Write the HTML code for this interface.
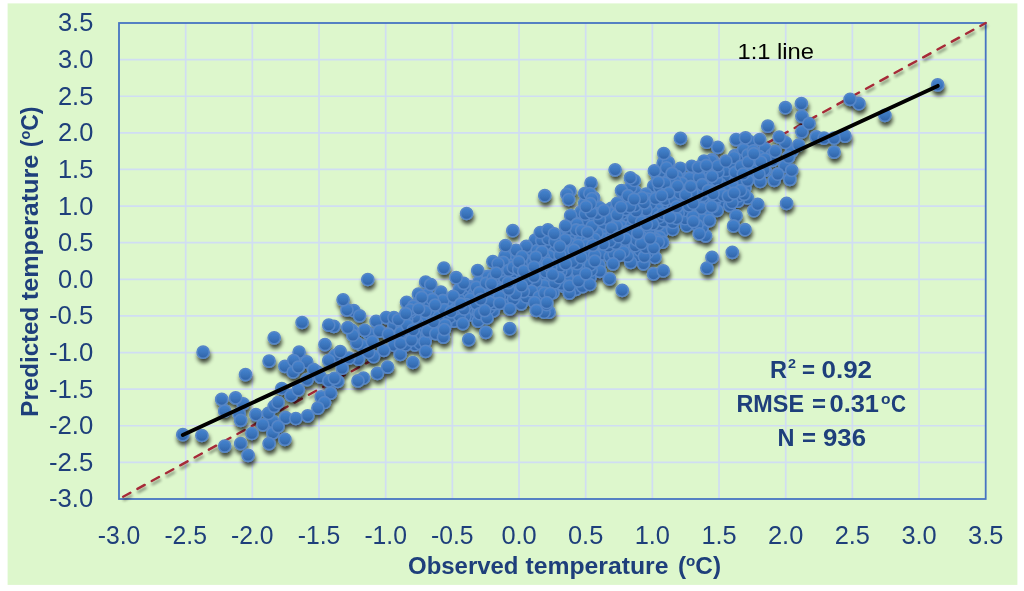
<!DOCTYPE html>
<html lang="en"><head><meta charset="utf-8"><title>Observed vs predicted temperature</title>
<style>html,body{margin:0;padding:0;background:#fff;}body{width:1024px;height:591px;overflow:hidden}svg{display:block}</style>
</head><body>
<svg width="1024" height="591" viewBox="0 0 1024 591">
<defs>
<linearGradient id="g" x1="0" y1="0" x2="0" y2="1"><stop offset="0" stop-color="#4582cd"/><stop offset="0.15" stop-color="#4280cb"/><stop offset="0.55" stop-color="#3a74bb"/><stop offset="0.9" stop-color="#3165aa"/><stop offset="1" stop-color="#3165aa"/></linearGradient>
<filter id="sh" x="-5%" y="-5%" width="110%" height="115%"><feGaussianBlur in="SourceAlpha" stdDeviation="2.2"/><feOffset dx="0.9" dy="3.7"/><feComponentTransfer><feFuncA type="linear" slope="0.72"/></feComponentTransfer><feMerge><feMergeNode/><feMergeNode in="SourceGraphic"/></feMerge></filter>

<filter id="sh2" x="-5%" y="-5%" width="110%" height="115%"><feGaussianBlur in="SourceAlpha" stdDeviation="1.5"/><feOffset dx="1" dy="2.5"/><feComponentTransfer><feFuncA type="linear" slope="0.45"/></feComponentTransfer><feMerge><feMergeNode/><feMergeNode in="SourceGraphic"/></feMerge></filter>
</defs>
<rect x="0" y="0" width="1024" height="591" fill="#fff"/>
<rect x="7.6" y="3.4" width="1009.8" height="581.5" fill="#ddf7cc"/>
<path d="M185.67 23.0V499.0M119.0 59.62H985.7M252.34 23.0V499.0M119.0 96.23H985.7M319.01 23.0V499.0M119.0 132.85H985.7M385.68 23.0V499.0M119.0 169.46H985.7M452.35 23.0V499.0M119.0 206.08H985.7M519.02 23.0V499.0M119.0 242.69H985.7M585.68 23.0V499.0M119.0 279.31H985.7M652.35 23.0V499.0M119.0 315.92H985.7M719.02 23.0V499.0M119.0 352.54H985.7M785.69 23.0V499.0M119.0 389.15H985.7M852.36 23.0V499.0M119.0 425.77H985.7M919.03 23.0V499.0M119.0 462.38H985.7" stroke="#d0ddf3" stroke-width="1.7" fill="none"/>
<rect x="119.0" y="23.0" width="866.7" height="476.0" fill="none" stroke="#4674c2" stroke-width="1.8"/>
<path filter="url(#sh2)" d="M119.0 499.0L985.7 23.0" stroke="#a62a37" stroke-width="2.4" stroke-linecap="round" stroke-dasharray="8.3 8" stroke-dashoffset="11.6" fill="none"/>
<g filter="url(#sh)" fill="url(#g)" stroke="#5686c7" stroke-width="1.6">
<circle cx="631.5" cy="252.9" r="6.05"/>
<circle cx="666.1" cy="209.4" r="6.05"/>
<circle cx="725.8" cy="184.7" r="6.05"/>
<circle cx="629.9" cy="246.5" r="6.05"/>
<circle cx="556.1" cy="251.5" r="6.05"/>
<circle cx="657.6" cy="176.9" r="6.05"/>
<circle cx="721.9" cy="201.4" r="6.05"/>
<circle cx="690.8" cy="198.7" r="6.05"/>
<circle cx="689.9" cy="212.0" r="6.05"/>
<circle cx="515.9" cy="278.6" r="6.05"/>
<circle cx="377.4" cy="373.4" r="6.05"/>
<circle cx="697.2" cy="183.3" r="6.05"/>
<circle cx="321.2" cy="396.9" r="6.05"/>
<circle cx="611.0" cy="222.5" r="6.05"/>
<circle cx="701.7" cy="172.3" r="6.05"/>
<circle cx="462.0" cy="297.2" r="6.05"/>
<circle cx="430.0" cy="308.0" r="6.05"/>
<circle cx="640.3" cy="207.4" r="6.05"/>
<circle cx="224.7" cy="446.1" r="6.05"/>
<circle cx="738.5" cy="161.5" r="6.05"/>
<circle cx="281.8" cy="388.5" r="6.05"/>
<circle cx="670.1" cy="202.1" r="6.05"/>
<circle cx="664.3" cy="175.6" r="6.05"/>
<circle cx="447.3" cy="303.0" r="6.05"/>
<circle cx="739.9" cy="189.1" r="6.05"/>
<circle cx="502.4" cy="302.6" r="6.05"/>
<circle cx="492.7" cy="297.6" r="6.05"/>
<circle cx="744.9" cy="187.8" r="6.05"/>
<circle cx="376.1" cy="321.4" r="6.05"/>
<circle cx="511.2" cy="258.9" r="6.05"/>
<circle cx="621.4" cy="221.4" r="6.05"/>
<circle cx="759.7" cy="167.1" r="6.05"/>
<circle cx="747.7" cy="162.0" r="6.05"/>
<circle cx="643.5" cy="263.8" r="6.05"/>
<circle cx="540.0" cy="246.2" r="6.05"/>
<circle cx="393.9" cy="345.2" r="6.05"/>
<circle cx="203.1" cy="352.2" r="6.05"/>
<circle cx="539.1" cy="286.9" r="6.05"/>
<circle cx="552.9" cy="292.6" r="6.05"/>
<circle cx="468.0" cy="291.8" r="6.05"/>
<circle cx="662.0" cy="204.1" r="6.05"/>
<circle cx="470.8" cy="286.9" r="6.05"/>
<circle cx="491.7" cy="289.5" r="6.05"/>
<circle cx="485.1" cy="288.4" r="6.05"/>
<circle cx="565.1" cy="258.1" r="6.05"/>
<circle cx="240.7" cy="443.6" r="6.05"/>
<circle cx="607.4" cy="251.4" r="6.05"/>
<circle cx="644.1" cy="229.6" r="6.05"/>
<circle cx="470.5" cy="314.8" r="6.05"/>
<circle cx="412.9" cy="362.5" r="6.05"/>
<circle cx="694.4" cy="176.4" r="6.05"/>
<circle cx="705.6" cy="235.8" r="6.05"/>
<circle cx="760.2" cy="181.5" r="6.05"/>
<circle cx="547.3" cy="250.6" r="6.05"/>
<circle cx="508.7" cy="264.4" r="6.05"/>
<circle cx="637.9" cy="255.7" r="6.05"/>
<circle cx="634.9" cy="191.3" r="6.05"/>
<circle cx="640.2" cy="250.5" r="6.05"/>
<circle cx="529.6" cy="270.1" r="6.05"/>
<circle cx="545.2" cy="280.2" r="6.05"/>
<circle cx="425.7" cy="303.7" r="6.05"/>
<circle cx="539.5" cy="277.2" r="6.05"/>
<circle cx="509.7" cy="276.8" r="6.05"/>
<circle cx="705.8" cy="211.2" r="6.05"/>
<circle cx="368.6" cy="333.4" r="6.05"/>
<circle cx="440.9" cy="321.5" r="6.05"/>
<circle cx="686.6" cy="225.7" r="6.05"/>
<circle cx="406.5" cy="339.6" r="6.05"/>
<circle cx="695.6" cy="189.1" r="6.05"/>
<circle cx="514.6" cy="289.1" r="6.05"/>
<circle cx="571.8" cy="224.3" r="6.05"/>
<circle cx="466.6" cy="213.5" r="6.05"/>
<circle cx="653.6" cy="232.9" r="6.05"/>
<circle cx="765.1" cy="170.4" r="6.05"/>
<circle cx="707.6" cy="200.7" r="6.05"/>
<circle cx="272.9" cy="432.9" r="6.05"/>
<circle cx="574.6" cy="256.8" r="6.05"/>
<circle cx="683.5" cy="178.4" r="6.05"/>
<circle cx="481.9" cy="276.9" r="6.05"/>
<circle cx="581.1" cy="276.4" r="6.05"/>
<circle cx="734.2" cy="181.5" r="6.05"/>
<circle cx="734.4" cy="172.0" r="6.05"/>
<circle cx="245.5" cy="374.6" r="6.05"/>
<circle cx="774.2" cy="180.3" r="6.05"/>
<circle cx="507.6" cy="302.1" r="6.05"/>
<circle cx="548.8" cy="288.0" r="6.05"/>
<circle cx="653.6" cy="273.9" r="6.05"/>
<circle cx="607.1" cy="233.3" r="6.05"/>
<circle cx="884.9" cy="115.3" r="6.05"/>
<circle cx="505.8" cy="293.6" r="6.05"/>
<circle cx="364.7" cy="330.3" r="6.05"/>
<circle cx="801.9" cy="116.3" r="6.05"/>
<circle cx="587.0" cy="199.8" r="6.05"/>
<circle cx="589.9" cy="219.8" r="6.05"/>
<circle cx="748.2" cy="167.7" r="6.05"/>
<circle cx="519.5" cy="297.4" r="6.05"/>
<circle cx="408.0" cy="333.5" r="6.05"/>
<circle cx="712.0" cy="159.9" r="6.05"/>
<circle cx="564.0" cy="286.3" r="6.05"/>
<circle cx="497.2" cy="281.4" r="6.05"/>
<circle cx="419.3" cy="332.2" r="6.05"/>
<circle cx="514.5" cy="273.3" r="6.05"/>
<circle cx="291.2" cy="395.4" r="6.05"/>
<circle cx="386.3" cy="317.6" r="6.05"/>
<circle cx="423.0" cy="328.7" r="6.05"/>
<circle cx="597.8" cy="227.9" r="6.05"/>
<circle cx="421.1" cy="337.8" r="6.05"/>
<circle cx="272.9" cy="421.5" r="6.05"/>
<circle cx="586.2" cy="226.9" r="6.05"/>
<circle cx="575.9" cy="236.5" r="6.05"/>
<circle cx="631.4" cy="240.5" r="6.05"/>
<circle cx="665.7" cy="227.9" r="6.05"/>
<circle cx="626.7" cy="226.1" r="6.05"/>
<circle cx="622.2" cy="290.4" r="6.05"/>
<circle cx="474.1" cy="308.9" r="6.05"/>
<circle cx="615.6" cy="231.3" r="6.05"/>
<circle cx="544.0" cy="285.7" r="6.05"/>
<circle cx="269.1" cy="361.1" r="6.05"/>
<circle cx="584.7" cy="203.3" r="6.05"/>
<circle cx="711.5" cy="160.9" r="6.05"/>
<circle cx="317.6" cy="372.2" r="6.05"/>
<circle cx="730.3" cy="175.5" r="6.05"/>
<circle cx="558.5" cy="236.6" r="6.05"/>
<circle cx="555.0" cy="256.7" r="6.05"/>
<circle cx="521.2" cy="303.8" r="6.05"/>
<circle cx="431.4" cy="316.4" r="6.05"/>
<circle cx="572.7" cy="281.5" r="6.05"/>
<circle cx="569.9" cy="191.1" r="6.05"/>
<circle cx="243.2" cy="403.8" r="6.05"/>
<circle cx="462.8" cy="314.7" r="6.05"/>
<circle cx="269.1" cy="443.6" r="6.05"/>
<circle cx="710.4" cy="169.8" r="6.05"/>
<circle cx="481.9" cy="305.1" r="6.05"/>
<circle cx="590.0" cy="277.0" r="6.05"/>
<circle cx="655.6" cy="190.8" r="6.05"/>
<circle cx="638.6" cy="202.0" r="6.05"/>
<circle cx="525.6" cy="265.9" r="6.05"/>
<circle cx="474.0" cy="293.9" r="6.05"/>
<circle cx="789.9" cy="179.3" r="6.05"/>
<circle cx="363.5" cy="378.0" r="6.05"/>
<circle cx="661.8" cy="232.2" r="6.05"/>
<circle cx="654.9" cy="257.4" r="6.05"/>
<circle cx="734.8" cy="155.6" r="6.05"/>
<circle cx="743.8" cy="158.0" r="6.05"/>
<circle cx="659.7" cy="172.0" r="6.05"/>
<circle cx="650.8" cy="193.9" r="6.05"/>
<circle cx="648.9" cy="231.0" r="6.05"/>
<circle cx="671.4" cy="184.9" r="6.05"/>
<circle cx="695.5" cy="212.2" r="6.05"/>
<circle cx="285.6" cy="417.7" r="6.05"/>
<circle cx="728.1" cy="164.8" r="6.05"/>
<circle cx="583.3" cy="220.1" r="6.05"/>
<circle cx="711.0" cy="211.7" r="6.05"/>
<circle cx="503.9" cy="286.9" r="6.05"/>
<circle cx="411.5" cy="322.2" r="6.05"/>
<circle cx="791.7" cy="151.4" r="6.05"/>
<circle cx="571.5" cy="270.3" r="6.05"/>
<circle cx="673.7" cy="191.9" r="6.05"/>
<circle cx="708.1" cy="182.5" r="6.05"/>
<circle cx="699.0" cy="201.4" r="6.05"/>
<circle cx="772.7" cy="160.3" r="6.05"/>
<circle cx="423.3" cy="305.4" r="6.05"/>
<circle cx="749.5" cy="141.7" r="6.05"/>
<circle cx="598.3" cy="250.0" r="6.05"/>
<circle cx="498.2" cy="289.5" r="6.05"/>
<circle cx="420.8" cy="315.0" r="6.05"/>
<circle cx="470.2" cy="299.1" r="6.05"/>
<circle cx="539.4" cy="292.0" r="6.05"/>
<circle cx="623.1" cy="201.9" r="6.05"/>
<circle cx="816.3" cy="136.9" r="6.05"/>
<circle cx="538.2" cy="261.8" r="6.05"/>
<circle cx="536.8" cy="297.8" r="6.05"/>
<circle cx="443.9" cy="268.1" r="6.05"/>
<circle cx="540.9" cy="268.2" r="6.05"/>
<circle cx="575.8" cy="289.3" r="6.05"/>
<circle cx="414.8" cy="344.9" r="6.05"/>
<circle cx="641.4" cy="237.3" r="6.05"/>
<circle cx="653.6" cy="186.1" r="6.05"/>
<circle cx="353.8" cy="310.7" r="6.05"/>
<circle cx="419.6" cy="330.4" r="6.05"/>
<circle cx="582.9" cy="249.9" r="6.05"/>
<circle cx="615.7" cy="220.1" r="6.05"/>
<circle cx="593.8" cy="207.7" r="6.05"/>
<circle cx="701.0" cy="219.0" r="6.05"/>
<circle cx="724.1" cy="171.1" r="6.05"/>
<circle cx="566.9" cy="194.4" r="6.05"/>
<circle cx="573.2" cy="275.5" r="6.05"/>
<circle cx="465.0" cy="316.2" r="6.05"/>
<circle cx="656.7" cy="203.5" r="6.05"/>
<circle cx="404.4" cy="335.7" r="6.05"/>
<circle cx="415.1" cy="318.9" r="6.05"/>
<circle cx="268.4" cy="413.4" r="6.05"/>
<circle cx="330.6" cy="393.1" r="6.05"/>
<circle cx="552.2" cy="248.3" r="6.05"/>
<circle cx="784.9" cy="166.1" r="6.05"/>
<circle cx="584.1" cy="266.7" r="6.05"/>
<circle cx="685.1" cy="218.7" r="6.05"/>
<circle cx="663.2" cy="163.1" r="6.05"/>
<circle cx="581.3" cy="239.9" r="6.05"/>
<circle cx="738.7" cy="155.0" r="6.05"/>
<circle cx="580.9" cy="212.2" r="6.05"/>
<circle cx="531.3" cy="298.0" r="6.05"/>
<circle cx="646.6" cy="241.9" r="6.05"/>
<circle cx="504.3" cy="277.4" r="6.05"/>
<circle cx="668.3" cy="162.5" r="6.05"/>
<circle cx="681.3" cy="198.5" r="6.05"/>
<circle cx="724.7" cy="176.3" r="6.05"/>
<circle cx="658.4" cy="224.6" r="6.05"/>
<circle cx="630.7" cy="187.4" r="6.05"/>
<circle cx="714.5" cy="201.1" r="6.05"/>
<circle cx="657.5" cy="209.4" r="6.05"/>
<circle cx="680.3" cy="168.3" r="6.05"/>
<circle cx="672.6" cy="229.5" r="6.05"/>
<circle cx="599.2" cy="241.2" r="6.05"/>
<circle cx="705.0" cy="222.5" r="6.05"/>
<circle cx="616.3" cy="248.6" r="6.05"/>
<circle cx="555.9" cy="262.0" r="6.05"/>
<circle cx="665.5" cy="199.4" r="6.05"/>
<circle cx="777.8" cy="174.2" r="6.05"/>
<circle cx="726.0" cy="170.5" r="6.05"/>
<circle cx="634.2" cy="180.5" r="6.05"/>
<circle cx="785.4" cy="142.5" r="6.05"/>
<circle cx="672.0" cy="212.7" r="6.05"/>
<circle cx="488.2" cy="276.4" r="6.05"/>
<circle cx="739.5" cy="177.9" r="6.05"/>
<circle cx="555.4" cy="269.7" r="6.05"/>
<circle cx="359.6" cy="315.8" r="6.05"/>
<circle cx="478.1" cy="321.1" r="6.05"/>
<circle cx="834.1" cy="152.1" r="6.05"/>
<circle cx="676.7" cy="176.4" r="6.05"/>
<circle cx="444.4" cy="317.4" r="6.05"/>
<circle cx="753.9" cy="166.9" r="6.05"/>
<circle cx="764.0" cy="169.7" r="6.05"/>
<circle cx="765.1" cy="148.8" r="6.05"/>
<circle cx="601.2" cy="254.3" r="6.05"/>
<circle cx="428.7" cy="320.9" r="6.05"/>
<circle cx="625.3" cy="218.1" r="6.05"/>
<circle cx="610.0" cy="256.8" r="6.05"/>
<circle cx="325.0" cy="344.6" r="6.05"/>
<circle cx="578.0" cy="271.9" r="6.05"/>
<circle cx="747.5" cy="198.0" r="6.05"/>
<circle cx="513.8" cy="283.5" r="6.05"/>
<circle cx="379.3" cy="331.1" r="6.05"/>
<circle cx="753.9" cy="210.7" r="6.05"/>
<circle cx="726.1" cy="195.3" r="6.05"/>
<circle cx="540.9" cy="302.5" r="6.05"/>
<circle cx="788.5" cy="157.2" r="6.05"/>
<circle cx="604.1" cy="224.6" r="6.05"/>
<circle cx="750.0" cy="173.9" r="6.05"/>
<circle cx="224.7" cy="410.9" r="6.05"/>
<circle cx="284.9" cy="366.4" r="6.05"/>
<circle cx="439.6" cy="326.6" r="6.05"/>
<circle cx="419.6" cy="315.9" r="6.05"/>
<circle cx="335.1" cy="355.5" r="6.05"/>
<circle cx="597.6" cy="213.0" r="6.05"/>
<circle cx="505.0" cy="256.2" r="6.05"/>
<circle cx="535.2" cy="240.1" r="6.05"/>
<circle cx="499.2" cy="296.8" r="6.05"/>
<circle cx="549.1" cy="312.2" r="6.05"/>
<circle cx="492.9" cy="261.7" r="6.05"/>
<circle cx="393.8" cy="325.0" r="6.05"/>
<circle cx="530.3" cy="253.1" r="6.05"/>
<circle cx="528.2" cy="287.1" r="6.05"/>
<circle cx="420.0" cy="343.5" r="6.05"/>
<circle cx="454.0" cy="321.1" r="6.05"/>
<circle cx="646.0" cy="194.2" r="6.05"/>
<circle cx="631.5" cy="235.5" r="6.05"/>
<circle cx="611.3" cy="208.4" r="6.05"/>
<circle cx="631.5" cy="213.9" r="6.05"/>
<circle cx="526.3" cy="246.4" r="6.05"/>
<circle cx="373.6" cy="356.6" r="6.05"/>
<circle cx="738.7" cy="184.0" r="6.05"/>
<circle cx="592.8" cy="250.4" r="6.05"/>
<circle cx="526.3" cy="297.0" r="6.05"/>
<circle cx="659.7" cy="237.2" r="6.05"/>
<circle cx="564.7" cy="248.1" r="6.05"/>
<circle cx="654.3" cy="219.3" r="6.05"/>
<circle cx="602.0" cy="235.2" r="6.05"/>
<circle cx="567.7" cy="280.3" r="6.05"/>
<circle cx="702.1" cy="227.8" r="6.05"/>
<circle cx="653.2" cy="212.4" r="6.05"/>
<circle cx="738.0" cy="201.2" r="6.05"/>
<circle cx="647.6" cy="199.0" r="6.05"/>
<circle cx="453.3" cy="303.8" r="6.05"/>
<circle cx="630.8" cy="262.5" r="6.05"/>
<circle cx="801.4" cy="103.7" r="6.05"/>
<circle cx="427.2" cy="294.6" r="6.05"/>
<circle cx="582.5" cy="286.6" r="6.05"/>
<circle cx="663.2" cy="270.9" r="6.05"/>
<circle cx="713.6" cy="185.8" r="6.05"/>
<circle cx="704.7" cy="177.1" r="6.05"/>
<circle cx="767.8" cy="126.2" r="6.05"/>
<circle cx="468.8" cy="339.6" r="6.05"/>
<circle cx="274.2" cy="337.8" r="6.05"/>
<circle cx="605.2" cy="239.3" r="6.05"/>
<circle cx="251.9" cy="433.5" r="6.05"/>
<circle cx="743.6" cy="149.6" r="6.05"/>
<circle cx="493.3" cy="310.9" r="6.05"/>
<circle cx="733.7" cy="188.0" r="6.05"/>
<circle cx="516.1" cy="250.3" r="6.05"/>
<circle cx="435.6" cy="312.8" r="6.05"/>
<circle cx="544.1" cy="312.2" r="6.05"/>
<circle cx="621.5" cy="190.6" r="6.05"/>
<circle cx="638.9" cy="217.3" r="6.05"/>
<circle cx="719.9" cy="184.0" r="6.05"/>
<circle cx="663.4" cy="220.8" r="6.05"/>
<circle cx="743.5" cy="181.8" r="6.05"/>
<circle cx="627.6" cy="256.1" r="6.05"/>
<circle cx="729.7" cy="205.6" r="6.05"/>
<circle cx="422.6" cy="322.6" r="6.05"/>
<circle cx="747.5" cy="180.3" r="6.05"/>
<circle cx="440.6" cy="305.4" r="6.05"/>
<circle cx="628.1" cy="201.0" r="6.05"/>
<circle cx="400.3" cy="354.4" r="6.05"/>
<circle cx="733.4" cy="164.2" r="6.05"/>
<circle cx="615.3" cy="210.2" r="6.05"/>
<circle cx="736.1" cy="215.8" r="6.05"/>
<circle cx="717.1" cy="210.5" r="6.05"/>
<circle cx="661.2" cy="185.3" r="6.05"/>
<circle cx="512.8" cy="230.7" r="6.05"/>
<circle cx="645.9" cy="216.3" r="6.05"/>
<circle cx="659.2" cy="217.2" r="6.05"/>
<circle cx="611.5" cy="213.4" r="6.05"/>
<circle cx="635.2" cy="245.7" r="6.05"/>
<circle cx="546.6" cy="304.6" r="6.05"/>
<circle cx="445.8" cy="324.2" r="6.05"/>
<circle cx="569.4" cy="293.1" r="6.05"/>
<circle cx="738.6" cy="195.9" r="6.05"/>
<circle cx="438.9" cy="316.8" r="6.05"/>
<circle cx="606.7" cy="218.3" r="6.05"/>
<circle cx="744.2" cy="194.3" r="6.05"/>
<circle cx="416.6" cy="322.5" r="6.05"/>
<circle cx="320.4" cy="377.1" r="6.05"/>
<circle cx="706.9" cy="268.1" r="6.05"/>
<circle cx="578.3" cy="253.1" r="6.05"/>
<circle cx="459.5" cy="289.1" r="6.05"/>
<circle cx="544.8" cy="195.7" r="6.05"/>
<circle cx="597.0" cy="233.1" r="6.05"/>
<circle cx="771.8" cy="154.9" r="6.05"/>
<circle cx="367.8" cy="279.5" r="6.05"/>
<circle cx="568.7" cy="236.0" r="6.05"/>
<circle cx="710.2" cy="171.1" r="6.05"/>
<circle cx="716.6" cy="180.1" r="6.05"/>
<circle cx="570.7" cy="215.5" r="6.05"/>
<circle cx="513.4" cy="299.0" r="6.05"/>
<circle cx="569.7" cy="243.6" r="6.05"/>
<circle cx="745.0" cy="229.7" r="6.05"/>
<circle cx="592.1" cy="226.3" r="6.05"/>
<circle cx="612.0" cy="234.9" r="6.05"/>
<circle cx="239.2" cy="413.9" r="6.05"/>
<circle cx="647.5" cy="252.7" r="6.05"/>
<circle cx="505.5" cy="245.7" r="6.05"/>
<circle cx="401.3" cy="337.9" r="6.05"/>
<circle cx="463.7" cy="283.3" r="6.05"/>
<circle cx="449.6" cy="317.4" r="6.05"/>
<circle cx="614.1" cy="253.7" r="6.05"/>
<circle cx="566.4" cy="271.2" r="6.05"/>
<circle cx="589.7" cy="284.5" r="6.05"/>
<circle cx="747.9" cy="154.8" r="6.05"/>
<circle cx="478.9" cy="282.0" r="6.05"/>
<circle cx="621.5" cy="226.4" r="6.05"/>
<circle cx="426.3" cy="336.7" r="6.05"/>
<circle cx="568.6" cy="229.3" r="6.05"/>
<circle cx="568.7" cy="199.5" r="6.05"/>
<circle cx="704.0" cy="161.0" r="6.05"/>
<circle cx="625.3" cy="200.8" r="6.05"/>
<circle cx="560.8" cy="271.6" r="6.05"/>
<circle cx="387.6" cy="367.1" r="6.05"/>
<circle cx="347.0" cy="309.9" r="6.05"/>
<circle cx="663.8" cy="153.6" r="6.05"/>
<circle cx="503.3" cy="262.3" r="6.05"/>
<circle cx="487.5" cy="295.5" r="6.05"/>
<circle cx="672.9" cy="222.5" r="6.05"/>
<circle cx="694.9" cy="171.2" r="6.05"/>
<circle cx="656.1" cy="239.6" r="6.05"/>
<circle cx="299.1" cy="352.2" r="6.05"/>
<circle cx="779.2" cy="137.1" r="6.05"/>
<circle cx="535.8" cy="281.5" r="6.05"/>
<circle cx="459.2" cy="315.8" r="6.05"/>
<circle cx="608.4" cy="246.1" r="6.05"/>
<circle cx="559.7" cy="266.6" r="6.05"/>
<circle cx="440.9" cy="292.2" r="6.05"/>
<circle cx="689.4" cy="178.3" r="6.05"/>
<circle cx="405.7" cy="344.9" r="6.05"/>
<circle cx="622.0" cy="213.2" r="6.05"/>
<circle cx="718.0" cy="172.1" r="6.05"/>
<circle cx="489.3" cy="308.0" r="6.05"/>
<circle cx="526.4" cy="260.6" r="6.05"/>
<circle cx="702.9" cy="195.5" r="6.05"/>
<circle cx="428.5" cy="303.0" r="6.05"/>
<circle cx="442.9" cy="300.4" r="6.05"/>
<circle cx="432.5" cy="299.4" r="6.05"/>
<circle cx="632.4" cy="230.3" r="6.05"/>
<circle cx="759.0" cy="173.9" r="6.05"/>
<circle cx="402.2" cy="326.4" r="6.05"/>
<circle cx="537.1" cy="250.5" r="6.05"/>
<circle cx="859.0" cy="103.7" r="6.05"/>
<circle cx="636.4" cy="223.3" r="6.05"/>
<circle cx="662.5" cy="242.2" r="6.05"/>
<circle cx="531.6" cy="291.0" r="6.05"/>
<circle cx="594.5" cy="239.1" r="6.05"/>
<circle cx="577.1" cy="263.6" r="6.05"/>
<circle cx="306.7" cy="361.9" r="6.05"/>
<circle cx="298.3" cy="389.8" r="6.05"/>
<circle cx="652.7" cy="224.1" r="6.05"/>
<circle cx="775.2" cy="151.4" r="6.05"/>
<circle cx="328.8" cy="360.6" r="6.05"/>
<circle cx="418.5" cy="294.0" r="6.05"/>
<circle cx="791.7" cy="170.4" r="6.05"/>
<circle cx="414.7" cy="317.4" r="6.05"/>
<circle cx="584.7" cy="193.7" r="6.05"/>
<circle cx="539.0" cy="297.0" r="6.05"/>
<circle cx="650.6" cy="203.7" r="6.05"/>
<circle cx="587.2" cy="260.1" r="6.05"/>
<circle cx="485.8" cy="332.3" r="6.05"/>
<circle cx="599.0" cy="265.0" r="6.05"/>
<circle cx="523.4" cy="291.6" r="6.05"/>
<circle cx="712.7" cy="206.6" r="6.05"/>
<circle cx="615.1" cy="169.8" r="6.05"/>
<circle cx="428.7" cy="326.2" r="6.05"/>
<circle cx="425.6" cy="282.0" r="6.05"/>
<circle cx="544.6" cy="293.0" r="6.05"/>
<circle cx="444.3" cy="309.7" r="6.05"/>
<circle cx="622.6" cy="245.4" r="6.05"/>
<circle cx="701.0" cy="190.2" r="6.05"/>
<circle cx="414.7" cy="334.6" r="6.05"/>
<circle cx="707.4" cy="217.2" r="6.05"/>
<circle cx="684.6" cy="202.6" r="6.05"/>
<circle cx="537.1" cy="272.0" r="6.05"/>
<circle cx="400.6" cy="332.4" r="6.05"/>
<circle cx="400.5" cy="343.4" r="6.05"/>
<circle cx="433.9" cy="328.7" r="6.05"/>
<circle cx="425.0" cy="341.8" r="6.05"/>
<circle cx="725.3" cy="190.7" r="6.05"/>
<circle cx="466.6" cy="304.5" r="6.05"/>
<circle cx="717.8" cy="147.3" r="6.05"/>
<circle cx="476.2" cy="287.2" r="6.05"/>
<circle cx="801.9" cy="131.8" r="6.05"/>
<circle cx="478.1" cy="312.2" r="6.05"/>
<circle cx="313.6" cy="369.5" r="6.05"/>
<circle cx="717.9" cy="166.0" r="6.05"/>
<circle cx="623.5" cy="252.0" r="6.05"/>
<circle cx="425.4" cy="311.5" r="6.05"/>
<circle cx="701.8" cy="219.3" r="6.05"/>
<circle cx="546.2" cy="243.7" r="6.05"/>
<circle cx="585.2" cy="214.2" r="6.05"/>
<circle cx="278.0" cy="426.6" r="6.05"/>
<circle cx="418.2" cy="303.1" r="6.05"/>
<circle cx="655.6" cy="198.5" r="6.05"/>
<circle cx="410.6" cy="312.0" r="6.05"/>
<circle cx="453.3" cy="296.3" r="6.05"/>
<circle cx="351.9" cy="330.4" r="6.05"/>
<circle cx="845.0" cy="136.1" r="6.05"/>
<circle cx="293.2" cy="372.0" r="6.05"/>
<circle cx="388.4" cy="334.2" r="6.05"/>
<circle cx="753.3" cy="150.8" r="6.05"/>
<circle cx="625.6" cy="209.3" r="6.05"/>
<circle cx="719.0" cy="190.6" r="6.05"/>
<circle cx="680.5" cy="138.4" r="6.05"/>
<circle cx="734.0" cy="157.5" r="6.05"/>
<circle cx="515.5" cy="294.1" r="6.05"/>
<circle cx="255.9" cy="414.7" r="6.05"/>
<circle cx="501.3" cy="270.6" r="6.05"/>
<circle cx="646.1" cy="209.9" r="6.05"/>
<circle cx="683.3" cy="188.9" r="6.05"/>
<circle cx="717.6" cy="196.6" r="6.05"/>
<circle cx="591.0" cy="183.0" r="6.05"/>
<circle cx="427.7" cy="331.3" r="6.05"/>
<circle cx="699.4" cy="177.4" r="6.05"/>
<circle cx="498.0" cy="263.8" r="6.05"/>
<circle cx="599.5" cy="219.4" r="6.05"/>
<circle cx="567.9" cy="252.4" r="6.05"/>
<circle cx="324.5" cy="402.5" r="6.05"/>
<circle cx="565.3" cy="239.8" r="6.05"/>
<circle cx="343.1" cy="299.8" r="6.05"/>
<circle cx="759.1" cy="156.3" r="6.05"/>
<circle cx="494.4" cy="303.8" r="6.05"/>
<circle cx="489.5" cy="302.1" r="6.05"/>
<circle cx="765.1" cy="159.0" r="6.05"/>
<circle cx="712.0" cy="176.4" r="6.05"/>
<circle cx="361.8" cy="345.6" r="6.05"/>
<circle cx="709.4" cy="220.6" r="6.05"/>
<circle cx="593.6" cy="197.7" r="6.05"/>
<circle cx="342.2" cy="368.2" r="6.05"/>
<circle cx="636.6" cy="239.8" r="6.05"/>
<circle cx="587.4" cy="239.8" r="6.05"/>
<circle cx="754.4" cy="159.5" r="6.05"/>
<circle cx="522.7" cy="277.9" r="6.05"/>
<circle cx="508.8" cy="270.3" r="6.05"/>
<circle cx="221.7" cy="399.4" r="6.05"/>
<circle cx="697.1" cy="225.1" r="6.05"/>
<circle cx="757.7" cy="204.4" r="6.05"/>
<circle cx="421.7" cy="297.4" r="6.05"/>
<circle cx="684.6" cy="210.5" r="6.05"/>
<circle cx="697.3" cy="194.3" r="6.05"/>
<circle cx="545.7" cy="271.8" r="6.05"/>
<circle cx="577.2" cy="224.2" r="6.05"/>
<circle cx="785.4" cy="107.7" r="6.05"/>
<circle cx="736.1" cy="139.6" r="6.05"/>
<circle cx="513.2" cy="267.4" r="6.05"/>
<circle cx="508.7" cy="289.3" r="6.05"/>
<circle cx="477.7" cy="270.6" r="6.05"/>
<circle cx="675.0" cy="200.2" r="6.05"/>
<circle cx="476.2" cy="303.7" r="6.05"/>
<circle cx="295.8" cy="418.5" r="6.05"/>
<circle cx="307.7" cy="415.9" r="6.05"/>
<circle cx="293.8" cy="360.6" r="6.05"/>
<circle cx="670.1" cy="178.5" r="6.05"/>
<circle cx="622.3" cy="232.4" r="6.05"/>
<circle cx="433.6" cy="321.9" r="6.05"/>
<circle cx="358.4" cy="359.2" r="6.05"/>
<circle cx="527.5" cy="279.9" r="6.05"/>
<circle cx="691.9" cy="192.6" r="6.05"/>
<circle cx="680.0" cy="193.1" r="6.05"/>
<circle cx="435.8" cy="333.6" r="6.05"/>
<circle cx="456.0" cy="308.6" r="6.05"/>
<circle cx="328.8" cy="380.9" r="6.05"/>
<circle cx="572.4" cy="261.5" r="6.05"/>
<circle cx="631.7" cy="225.1" r="6.05"/>
<circle cx="725.9" cy="161.2" r="6.05"/>
<circle cx="638.9" cy="227.9" r="6.05"/>
<circle cx="548.9" cy="255.9" r="6.05"/>
<circle cx="541.7" cy="240.6" r="6.05"/>
<circle cx="599.9" cy="271.3" r="6.05"/>
<circle cx="633.5" cy="218.6" r="6.05"/>
<circle cx="681.8" cy="183.2" r="6.05"/>
<circle cx="307.2" cy="379.6" r="6.05"/>
<circle cx="406.7" cy="319.8" r="6.05"/>
<circle cx="798.6" cy="145.0" r="6.05"/>
<circle cx="559.9" cy="255.1" r="6.05"/>
<circle cx="451.1" cy="311.8" r="6.05"/>
<circle cx="407.3" cy="325.2" r="6.05"/>
<circle cx="644.3" cy="256.6" r="6.05"/>
<circle cx="599.2" cy="207.5" r="6.05"/>
<circle cx="456.1" cy="277.7" r="6.05"/>
<circle cx="337.7" cy="381.4" r="6.05"/>
<circle cx="591.2" cy="270.2" r="6.05"/>
<circle cx="411.5" cy="340.2" r="6.05"/>
<circle cx="302.1" cy="322.5" r="6.05"/>
<circle cx="356.7" cy="342.8" r="6.05"/>
<circle cx="617.3" cy="203.3" r="6.05"/>
<circle cx="406.6" cy="302.3" r="6.05"/>
<circle cx="636.3" cy="211.0" r="6.05"/>
<circle cx="518.7" cy="269.4" r="6.05"/>
<circle cx="486.1" cy="283.2" r="6.05"/>
<circle cx="368.6" cy="352.4" r="6.05"/>
<circle cx="616.4" cy="226.3" r="6.05"/>
<circle cx="493.1" cy="278.1" r="6.05"/>
<circle cx="786.6" cy="203.4" r="6.05"/>
<circle cx="665.3" cy="189.0" r="6.05"/>
<circle cx="589.8" cy="255.0" r="6.05"/>
<circle cx="699.3" cy="233.8" r="6.05"/>
<circle cx="809.0" cy="123.5" r="6.05"/>
<circle cx="735.2" cy="172.4" r="6.05"/>
<circle cx="590.4" cy="264.8" r="6.05"/>
<circle cx="585.9" cy="245.5" r="6.05"/>
<circle cx="182.8" cy="434.7" r="6.05"/>
<circle cx="685.7" cy="194.9" r="6.05"/>
<circle cx="678.2" cy="213.2" r="6.05"/>
<circle cx="561.8" cy="284.3" r="6.05"/>
<circle cx="435.1" cy="305.1" r="6.05"/>
<circle cx="732.3" cy="252.3" r="6.05"/>
<circle cx="701.3" cy="208.3" r="6.05"/>
<circle cx="641.6" cy="222.0" r="6.05"/>
<circle cx="349.1" cy="358.1" r="6.05"/>
<circle cx="352.9" cy="335.2" r="6.05"/>
<circle cx="676.5" cy="218.4" r="6.05"/>
<circle cx="534.6" cy="302.5" r="6.05"/>
<circle cx="479.4" cy="292.7" r="6.05"/>
<circle cx="674.8" cy="181.0" r="6.05"/>
<circle cx="645.8" cy="247.5" r="6.05"/>
<circle cx="589.8" cy="193.5" r="6.05"/>
<circle cx="554.7" cy="282.8" r="6.05"/>
<circle cx="522.1" cy="256.6" r="6.05"/>
<circle cx="235.6" cy="397.9" r="6.05"/>
<circle cx="518.7" cy="261.9" r="6.05"/>
<circle cx="732.1" cy="202.5" r="6.05"/>
<circle cx="548.1" cy="238.9" r="6.05"/>
<circle cx="284.9" cy="439.3" r="6.05"/>
<circle cx="576.2" cy="229.9" r="6.05"/>
<circle cx="508.3" cy="282.6" r="6.05"/>
<circle cx="480.7" cy="299.3" r="6.05"/>
<circle cx="262.8" cy="424.8" r="6.05"/>
<circle cx="413.5" cy="306.2" r="6.05"/>
<circle cx="722.8" cy="195.2" r="6.05"/>
<circle cx="443.4" cy="337.1" r="6.05"/>
<circle cx="658.3" cy="242.2" r="6.05"/>
<circle cx="597.4" cy="213.5" r="6.05"/>
<circle cx="274.2" cy="406.3" r="6.05"/>
<circle cx="634.9" cy="205.7" r="6.05"/>
<circle cx="745.5" cy="137.9" r="6.05"/>
<circle cx="550.3" cy="293.5" r="6.05"/>
<circle cx="741.1" cy="166.2" r="6.05"/>
<circle cx="702.3" cy="184.7" r="6.05"/>
<circle cx="592.1" cy="198.6" r="6.05"/>
<circle cx="692.9" cy="216.5" r="6.05"/>
<circle cx="554.9" cy="241.7" r="6.05"/>
<circle cx="760.8" cy="162.0" r="6.05"/>
<circle cx="523.7" cy="271.2" r="6.05"/>
<circle cx="536.4" cy="310.4" r="6.05"/>
<circle cx="565.6" cy="226.1" r="6.05"/>
<circle cx="430.7" cy="284.6" r="6.05"/>
<circle cx="248.1" cy="455.3" r="6.05"/>
<circle cx="462.8" cy="323.6" r="6.05"/>
<circle cx="464.0" cy="309.1" r="6.05"/>
<circle cx="591.2" cy="212.2" r="6.05"/>
<circle cx="646.5" cy="224.6" r="6.05"/>
<circle cx="676.7" cy="206.8" r="6.05"/>
<circle cx="393.9" cy="317.6" r="6.05"/>
<circle cx="743.2" cy="174.0" r="6.05"/>
<circle cx="728.3" cy="196.2" r="6.05"/>
<circle cx="641.4" cy="243.5" r="6.05"/>
<circle cx="609.5" cy="278.9" r="6.05"/>
<circle cx="666.5" cy="167.8" r="6.05"/>
<circle cx="653.6" cy="248.1" r="6.05"/>
<circle cx="627.3" cy="231.4" r="6.05"/>
<circle cx="581.7" cy="230.7" r="6.05"/>
<circle cx="688.8" cy="205.9" r="6.05"/>
<circle cx="590.3" cy="203.7" r="6.05"/>
<circle cx="615.7" cy="243.2" r="6.05"/>
<circle cx="334.4" cy="378.3" r="6.05"/>
<circle cx="540.3" cy="232.5" r="6.05"/>
<circle cx="559.8" cy="246.5" r="6.05"/>
<circle cx="691.7" cy="166.3" r="6.05"/>
<circle cx="298.3" cy="367.0" r="6.05"/>
<circle cx="708.3" cy="190.7" r="6.05"/>
<circle cx="690.6" cy="186.4" r="6.05"/>
<circle cx="546.7" cy="302.5" r="6.05"/>
<circle cx="733.6" cy="225.9" r="6.05"/>
<circle cx="496.2" cy="273.1" r="6.05"/>
<circle cx="543.7" cy="257.9" r="6.05"/>
<circle cx="740.6" cy="190.6" r="6.05"/>
<circle cx="824.0" cy="138.2" r="6.05"/>
<circle cx="333.9" cy="326.3" r="6.05"/>
<circle cx="372.4" cy="341.8" r="6.05"/>
<circle cx="479.8" cy="313.7" r="6.05"/>
<circle cx="398.3" cy="319.7" r="6.05"/>
<circle cx="644.3" cy="202.9" r="6.05"/>
<circle cx="509.8" cy="308.9" r="6.05"/>
<circle cx="358.0" cy="380.9" r="6.05"/>
<circle cx="693.3" cy="221.6" r="6.05"/>
<circle cx="629.8" cy="206.6" r="6.05"/>
<circle cx="532.8" cy="261.9" r="6.05"/>
<circle cx="637.7" cy="233.3" r="6.05"/>
<circle cx="659.5" cy="187.3" r="6.05"/>
<circle cx="491.5" cy="283.9" r="6.05"/>
<circle cx="559.0" cy="277.7" r="6.05"/>
<circle cx="748.2" cy="162.2" r="6.05"/>
<circle cx="759.7" cy="139.6" r="6.05"/>
<circle cx="698.3" cy="167.4" r="6.05"/>
<circle cx="413.2" cy="329.8" r="6.05"/>
<circle cx="677.5" cy="186.1" r="6.05"/>
<circle cx="594.7" cy="255.3" r="6.05"/>
<circle cx="383.8" cy="350.3" r="6.05"/>
<circle cx="328.8" cy="325.1" r="6.05"/>
<circle cx="521.6" cy="286.0" r="6.05"/>
<circle cx="663.1" cy="213.8" r="6.05"/>
<circle cx="693.1" cy="203.2" r="6.05"/>
<circle cx="587.5" cy="232.4" r="6.05"/>
<circle cx="706.4" cy="165.4" r="6.05"/>
<circle cx="664.9" cy="183.1" r="6.05"/>
<circle cx="569.3" cy="286.0" r="6.05"/>
<circle cx="619.5" cy="255.3" r="6.05"/>
<circle cx="834.1" cy="138.2" r="6.05"/>
<circle cx="547.9" cy="229.9" r="6.05"/>
<circle cx="609.9" cy="241.3" r="6.05"/>
<circle cx="565.6" cy="263.9" r="6.05"/>
<circle cx="650.2" cy="238.2" r="6.05"/>
<circle cx="617.1" cy="214.9" r="6.05"/>
<circle cx="578.5" cy="281.0" r="6.05"/>
<circle cx="410.4" cy="309.9" r="6.05"/>
<circle cx="585.9" cy="273.8" r="6.05"/>
<circle cx="425.6" cy="351.3" r="6.05"/>
<circle cx="578.1" cy="245.3" r="6.05"/>
<circle cx="712.0" cy="257.4" r="6.05"/>
<circle cx="937.7" cy="84.9" r="6.05"/>
<circle cx="487.0" cy="318.0" r="6.05"/>
<circle cx="613.0" cy="263.8" r="6.05"/>
<circle cx="654.4" cy="170.9" r="6.05"/>
<circle cx="594.8" cy="261.1" r="6.05"/>
<circle cx="658.1" cy="182.2" r="6.05"/>
<circle cx="445.1" cy="324.9" r="6.05"/>
<circle cx="550.7" cy="267.6" r="6.05"/>
<circle cx="552.5" cy="274.6" r="6.05"/>
<circle cx="240.7" cy="420.3" r="6.05"/>
<circle cx="581.0" cy="257.5" r="6.05"/>
<circle cx="669.8" cy="217.4" r="6.05"/>
<circle cx="278.0" cy="402.5" r="6.05"/>
<circle cx="509.8" cy="328.7" r="6.05"/>
<circle cx="542.0" cy="251.7" r="6.05"/>
<circle cx="850.1" cy="99.3" r="6.05"/>
<circle cx="628.0" cy="195.7" r="6.05"/>
<circle cx="554.2" cy="233.8" r="6.05"/>
<circle cx="621.0" cy="207.3" r="6.05"/>
<circle cx="460.7" cy="303.9" r="6.05"/>
<circle cx="611.5" cy="228.2" r="6.05"/>
<circle cx="668.7" cy="193.1" r="6.05"/>
<circle cx="573.9" cy="250.2" r="6.05"/>
<circle cx="405.8" cy="313.7" r="6.05"/>
<circle cx="418.6" cy="308.9" r="6.05"/>
<circle cx="535.8" cy="257.2" r="6.05"/>
<circle cx="499.6" cy="303.3" r="6.05"/>
<circle cx="706.9" cy="142.2" r="6.05"/>
<circle cx="484.7" cy="310.6" r="6.05"/>
<circle cx="534.0" cy="276.6" r="6.05"/>
<circle cx="734.0" cy="193.1" r="6.05"/>
<circle cx="444.3" cy="329.6" r="6.05"/>
<circle cx="642.1" cy="197.7" r="6.05"/>
<circle cx="753.8" cy="153.7" r="6.05"/>
<circle cx="634.1" cy="199.2" r="6.05"/>
<circle cx="317.9" cy="408.1" r="6.05"/>
<circle cx="603.4" cy="244.1" r="6.05"/>
<circle cx="586.0" cy="206.7" r="6.05"/>
<circle cx="534.0" cy="267.0" r="6.05"/>
<circle cx="547.8" cy="263.3" r="6.05"/>
<circle cx="672.1" cy="173.4" r="6.05"/>
<circle cx="347.8" cy="327.6" r="6.05"/>
<circle cx="592.9" cy="245.3" r="6.05"/>
<circle cx="625.4" cy="239.2" r="6.05"/>
<circle cx="603.8" cy="210.4" r="6.05"/>
<circle cx="711.6" cy="206.5" r="6.05"/>
<circle cx="661.6" cy="195.8" r="6.05"/>
<circle cx="340.2" cy="351.7" r="6.05"/>
<circle cx="618.4" cy="236.7" r="6.05"/>
<circle cx="201.9" cy="435.5" r="6.05"/>
<circle cx="713.1" cy="193.7" r="6.05"/>
<circle cx="630.4" cy="177.9" r="6.05"/>
</g>
<path d="M182.8 434.9L937.7 85.9" stroke="#000" stroke-width="3.9" stroke-linecap="round" fill="none"/>
<g font-family="'Liberation Sans', sans-serif" fill="#1e3f7b" font-size="25.5">
<text x="93.3" y="31.4" text-anchor="end" textLength="35.3" lengthAdjust="spacingAndGlyphs">3.5</text>
<text x="93.3" y="68.0" text-anchor="end" textLength="35.3" lengthAdjust="spacingAndGlyphs">3.0</text>
<text x="93.3" y="104.6" text-anchor="end" textLength="35.3" lengthAdjust="spacingAndGlyphs">2.5</text>
<text x="93.3" y="141.2" text-anchor="end" textLength="35.3" lengthAdjust="spacingAndGlyphs">2.0</text>
<text x="93.3" y="177.9" text-anchor="end" textLength="35.3" lengthAdjust="spacingAndGlyphs">1.5</text>
<text x="93.3" y="214.5" text-anchor="end" textLength="35.3" lengthAdjust="spacingAndGlyphs">1.0</text>
<text x="93.3" y="251.1" text-anchor="end" textLength="35.3" lengthAdjust="spacingAndGlyphs">0.5</text>
<text x="93.3" y="287.7" text-anchor="end" textLength="35.3" lengthAdjust="spacingAndGlyphs">0.0</text>
<text x="93.3" y="324.3" text-anchor="end" textLength="44.3" lengthAdjust="spacingAndGlyphs">-0.5</text>
<text x="93.3" y="360.9" text-anchor="end" textLength="44.3" lengthAdjust="spacingAndGlyphs">-1.0</text>
<text x="93.3" y="397.6" text-anchor="end" textLength="44.3" lengthAdjust="spacingAndGlyphs">-1.5</text>
<text x="93.3" y="434.2" text-anchor="end" textLength="44.3" lengthAdjust="spacingAndGlyphs">-2.0</text>
<text x="93.3" y="470.8" text-anchor="end" textLength="44.3" lengthAdjust="spacingAndGlyphs">-2.5</text>
<text x="93.3" y="507.4" text-anchor="end" textLength="44.3" lengthAdjust="spacingAndGlyphs">-3.0</text>
<text x="97.7" y="543.6" textLength="42.6" lengthAdjust="spacingAndGlyphs">-3.0</text>
<text x="164.4" y="543.6" textLength="42.6" lengthAdjust="spacingAndGlyphs">-2.5</text>
<text x="231.0" y="543.6" textLength="42.6" lengthAdjust="spacingAndGlyphs">-2.0</text>
<text x="297.7" y="543.6" textLength="42.6" lengthAdjust="spacingAndGlyphs">-1.5</text>
<text x="364.4" y="543.6" textLength="42.6" lengthAdjust="spacingAndGlyphs">-1.0</text>
<text x="431.0" y="543.6" textLength="42.6" lengthAdjust="spacingAndGlyphs">-0.5</text>
<text x="501.4" y="543.6" textLength="35.3" lengthAdjust="spacingAndGlyphs">0.0</text>
<text x="568.0" y="543.6" textLength="35.3" lengthAdjust="spacingAndGlyphs">0.5</text>
<text x="634.7" y="543.6" textLength="35.3" lengthAdjust="spacingAndGlyphs">1.0</text>
<text x="701.4" y="543.6" textLength="35.3" lengthAdjust="spacingAndGlyphs">1.5</text>
<text x="768.0" y="543.6" textLength="35.3" lengthAdjust="spacingAndGlyphs">2.0</text>
<text x="834.7" y="543.6" textLength="35.3" lengthAdjust="spacingAndGlyphs">2.5</text>
<text x="901.4" y="543.6" textLength="35.3" lengthAdjust="spacingAndGlyphs">3.0</text>
<text x="968.1" y="543.6" textLength="35.3" lengthAdjust="spacingAndGlyphs">3.5</text>
</g>
<g font-family="'Liberation Sans', sans-serif" fill="#1e3f7b" font-size="24.8" font-weight="bold">
<text x="408.0" y="573.7" textLength="110.5" lengthAdjust="spacingAndGlyphs">Observed</text><text x="525.5" y="573.7" textLength="143.0" lengthAdjust="spacingAndGlyphs">temperature</text><text x="678.0" y="573.7" textLength="43.0" lengthAdjust="spacingAndGlyphs">(<tspan font-size="15.5" dy="-8">o</tspan><tspan dy="8">C)</tspan></text>
<g transform="translate(37.7 414.7) rotate(-90)"><text x="-2.0" y="0" textLength="110.0" lengthAdjust="spacingAndGlyphs">Predicted</text><text x="114.5" y="0" textLength="145.5" lengthAdjust="spacingAndGlyphs">temperature</text><text x="267.5" y="0" textLength="40.5" lengthAdjust="spacingAndGlyphs">(<tspan font-size="15.5" dy="-8">o</tspan><tspan dy="8">C)</tspan></text></g>
<text x="770.0" y="378.2" textLength="17.0" lengthAdjust="spacingAndGlyphs">R</text><text x="788.0" y="367.9" textLength="8.0" lengthAdjust="spacingAndGlyphs" font-size="12">2</text><text x="802.0" y="378.2" textLength="13.0" lengthAdjust="spacingAndGlyphs">=</text><text x="821.5" y="378.2" textLength="50.5" lengthAdjust="spacingAndGlyphs">0.92</text>
<text x="736.5" y="412.1" textLength="67.5" lengthAdjust="spacingAndGlyphs">RMSE</text><text x="812.0" y="412.1" textLength="14.0" lengthAdjust="spacingAndGlyphs">=</text><text x="829.5" y="412.1" textLength="49.5" lengthAdjust="spacingAndGlyphs">0.31</text><text x="881.0" y="403.9" textLength="9.5" lengthAdjust="spacingAndGlyphs" font-size="15.5">o</text><text x="891.0" y="412.1" textLength="15.0" lengthAdjust="spacingAndGlyphs">C</text>
<text x="777.5" y="446" textLength="17.0" lengthAdjust="spacingAndGlyphs">N</text><text x="802.0" y="446" textLength="14.0" lengthAdjust="spacingAndGlyphs">=</text><text x="823.0" y="446" textLength="43.0" lengthAdjust="spacingAndGlyphs">936</text>
</g>
<g font-family="'Liberation Sans', sans-serif" font-size="22.4" fill="#000"><text x="737.5" y="58.7" textLength="33.0" lengthAdjust="spacingAndGlyphs">1:1</text><text x="777.0" y="58.7" textLength="37.0" lengthAdjust="spacingAndGlyphs">line</text></g>
</svg>
</body></html>
